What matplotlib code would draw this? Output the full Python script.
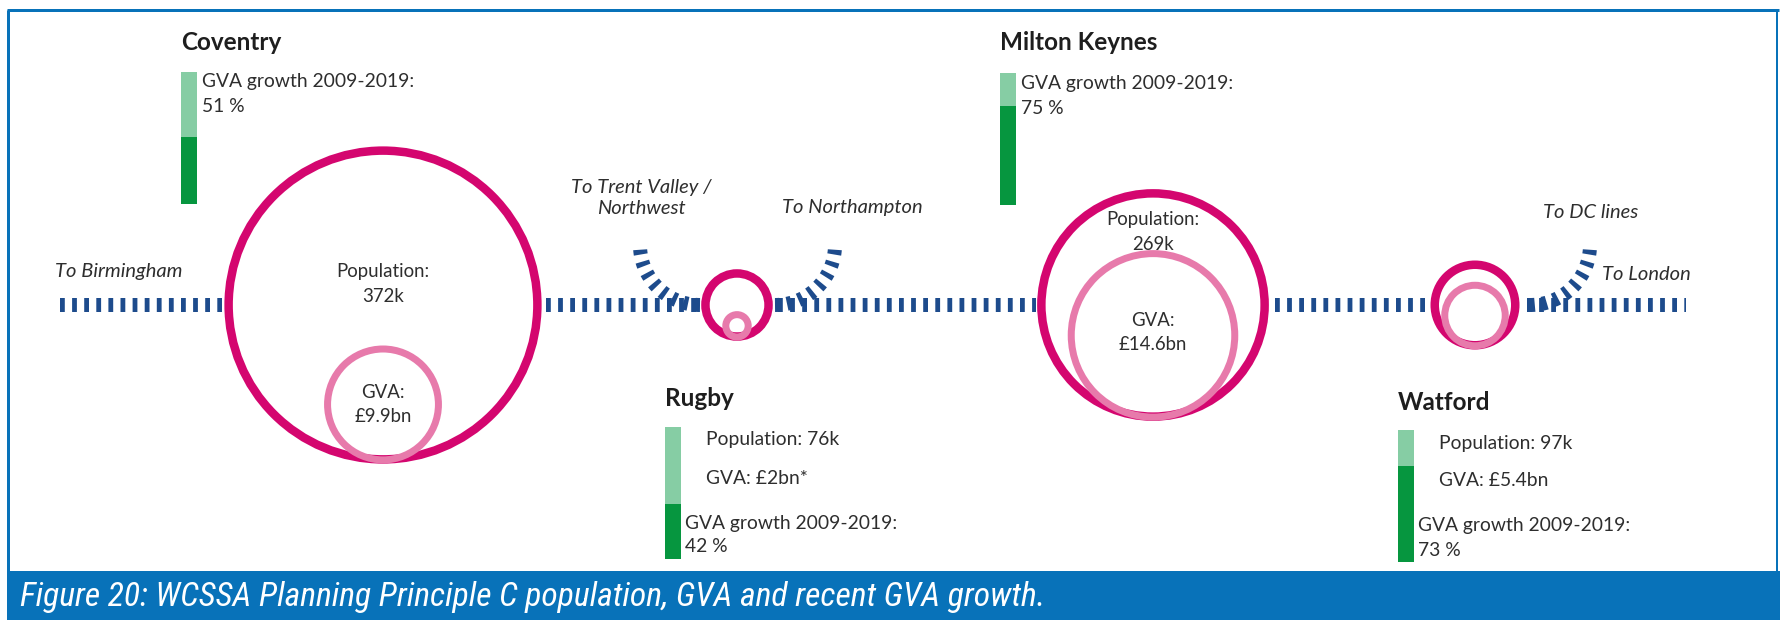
import matplotlib
matplotlib.use("Agg")
import matplotlib.pyplot as plt
from matplotlib.patches import Circle, Rectangle
from matplotlib import font_manager as fm
import numpy as np

plt.rcParams["lines.scale_dashes"] = False

# ---------------- data ----------------
towns = ["Coventry", "Rugby", "Milton Keynes", "Watford"]
population_k = [372, 76, 269, 97]
population_label = ["372k", "76k", "269k", "97k"]
gva_bn = [9.9, 2.0, 14.6, 5.4]
gva_label = ["£9.9bn", "£2bn*", "£14.6bn", "£5.4bn"]
gva_growth_pct = [51, 42, 75, 73]
branch_labels = ["To Birmingham", "To Trent Valley /\nNorthwest", "To Northampton",
                 "To DC lines", "To London"]
caption = "Figure 20: WCSSA Planning Principle C population, GVA and recent GVA growth."

# ---------------- layout (pixels) ----------------
W, H = 1780, 620
PT = 72 / 100.0  # points per pixel
fig = plt.figure(figsize=(W / 100, H / 100), dpi=100)
ax = fig.add_axes([0, 0, 1, 1])
ax.set_xlim(0, W)
ax.set_ylim(H, 0)
ax.axis("off")

MAGENTA = "#d4066f"
PINK = "#e77aab"
GREEN_D = "#06963f"
GREEN_L = "#86cda4"
NAVY = "#1d4b8c"
BLUE = "#0872b9"
TXT = "#2e2e2e"
FONT = "Lato"

renderer = fig.canvas.get_renderer()


# pick a condensed / narrow italic face for the caption if one is installed
def find_caption_font():
    best, best_score = None, -1
    for f in fm.fontManager.ttflist:
        name = f.name
        narrow = ("Narrow" in name or "Condensed" in name or
                  str(f.stretch) in ("condensed", "semi-condensed", "extra-condensed",
                                     "ultra-condensed") or
                  "Condensed" in f.fname or "Narrow" in f.fname)
        if not narrow:
            continue
        score = 1
        if f.style in ("italic", "oblique"):
            score += 10
        if str(f.weight) in ("400", "normal", "regular"):
            score += 3
        if "Semi" in f.fname or "Extra" in f.fname:
            score -= 1
        for k, pref in enumerate(["Liberation Sans Narrow", "Open Sans", "Roboto",
                                  "Noto Sans", "Lato", "DejaVu Sans"]):
            if name.startswith(pref):
                score += 6 - k
                break
        if score > best_score:
            best, best_score = f, score
    if best is None:
        return dict(family="DejaVu Sans", style="italic")
    kw = dict(fontproperties=fm.FontProperties(fname=best.fname))
    if best.style not in ("italic", "oblique"):
        kw["fontproperties"].set_style("italic")
    return kw


cap_kw = find_caption_font()


def fit_size(sample, target_px, **kw):
    t = ax.text(0, 0, sample, fontsize=10, **kw)
    w = t.get_window_extent(renderer).width
    t.remove()
    return 10 * target_px / w


body_fs = fit_size("GVA growth 2009-2019:", 212, family=FONT)
title_fs = fit_size("Milton Keynes", 158, family=FONT, weight="bold")
ital_fs = fit_size("To Northampton", 141, family=FONT, style="italic")

cap_text = ax.text(20, 597, caption, ha="left", va="center", color="white",
                   zorder=7, **cap_kw)
fp = cap_text.get_fontproperties()
fp.set_size(10)
cap_text.set_fontproperties(fp)
w10 = cap_text.get_window_extent(renderer).width
fp.set_size(min(10 * 1026 / w10, 27))
cap_text.set_fontproperties(fp)

line_y = 305
town_x = [383, 737, 1153, 1475]
K_POP = 0.415  # px radius per thousand people
K_GVA = 5.6    # px radius per £bn

# ---------------- railway line ----------------
DASH = (0, (4.8 * PT, 7.3 * PT))
LW = 14 * PT
segments = [(60, 222), (546, 702), (778, 1036), (1275, 1425), (1527, 1686)]
for x0, x1 in segments:
    ax.plot([x0, x1], [line_y, line_y], color=NAVY, lw=LW, linestyle=DASH,
            solid_capstyle="butt", dash_capstyle="butt", zorder=1)

# branch arcs: (centre x, centre y, radius, start angle, end angle)
arcs = [(700, 245, 60, 90, 180), (775, 245, 60, 90, 0), (1530, 245, 60, 90, 0)]
for cx, cy, r, a0, a1 in arcs:
    th = np.radians(np.linspace(a0, a1, 80))
    ax.plot(cx + r * np.cos(th), cy + r * np.sin(th), color=NAVY, lw=LW,
            linestyle=DASH, dash_capstyle="butt", zorder=1)

# ---------------- circles ----------------
for i, x in enumerate(town_x):
    ro = K_POP * population_k[i]
    ri = K_GVA * gva_bn[i]
    ax.add_patch(Circle((x, line_y), ro, fill=False, ec=MAGENTA, lw=8.5 * PT, zorder=3))
    ax.add_patch(Circle((x, line_y + ro - ri + 0.5), ri, fill=False, ec=PINK,
                        lw=7 * PT, zorder=4))

# labels inside the big circles (Coventry, Milton Keynes)
inside = {0: (272, 392), 2: (220, 320)}
for i, (yp, yg) in inside.items():
    x = town_x[i]
    for dy, s in [(yp, "Population:"), (yp + 25, population_label[i]),
                  (yg, "GVA:"), (yg + 25, gva_label[i])]:
        ax.text(x, dy, s, ha="center", va="center", fontsize=body_fs * 0.97,
                family=FONT, color=TXT, zorder=5)

# ---------------- growth bars ----------------
BAR_W = 16
BAR_H = 132
# (bar x, title y, bar top)
bar_pos = {0: (181, 42, 72), 1: (665, 398, 427), 2: (1000, 42, 73), 3: (1398, 403, 430)}
for i, (bx, ty, top) in bar_pos.items():
    ax.text(bx, ty, towns[i], ha="left", va="center", fontsize=title_fs,
            family=FONT, weight="bold", color="#1e1e1e")
    ax.add_patch(Rectangle((bx, top), BAR_W, BAR_H, color=GREEN_L, lw=0))
    hd = BAR_H * gva_growth_pct[i] / 100
    ax.add_patch(Rectangle((bx, top + BAR_H - hd), BAR_W, hd, color=GREEN_D, lw=0))
    if i in (0, 2):
        rows = [(21, 10, "GVA growth 2009-2019:"), (21, 35, f"{gva_growth_pct[i]} %")]
    else:
        rows = [(41, 13, f"Population: {population_label[i]}"),
                (41, 51, f"GVA: {gva_label[i]}"),
                (20, 96, "GVA growth 2009-2019:"),
                (20, 120, f"{gva_growth_pct[i]} %")]
    for dx, dy, s in rows:
        ax.text(bx + dx, top + dy, s, ha="left", va="center", fontsize=body_fs,
                family=FONT, color=TXT)

# ---------------- branch labels ----------------
lab_pos = [(55, 272, "left"), (641, 198, "center"), (852, 208, "center"),
           (1543, 212, "left"), (1602, 275, "left")]
for s, (x, y, ha) in zip(branch_labels, lab_pos):
    ax.text(x, y, s, ha=ha, va="center", fontsize=ital_fs, family=FONT,
            style="italic", color=TXT, linespacing=1.3)

# ---------------- frame & caption band ----------------
ax.plot([7, 1779], [10, 10], color=BLUE, lw=3 * PT, solid_capstyle="butt")
ax.plot([8, 8], [10, 571], color=BLUE, lw=3 * PT, solid_capstyle="butt")
ax.plot([1777, 1777], [10, 571], color=BLUE, lw=2 * PT, solid_capstyle="butt")
ax.add_patch(Rectangle((6.5, 571), W - 6.5, H - 571, color=BLUE, lw=0, zorder=6))

fig.savefig("out.png", dpi=100)
